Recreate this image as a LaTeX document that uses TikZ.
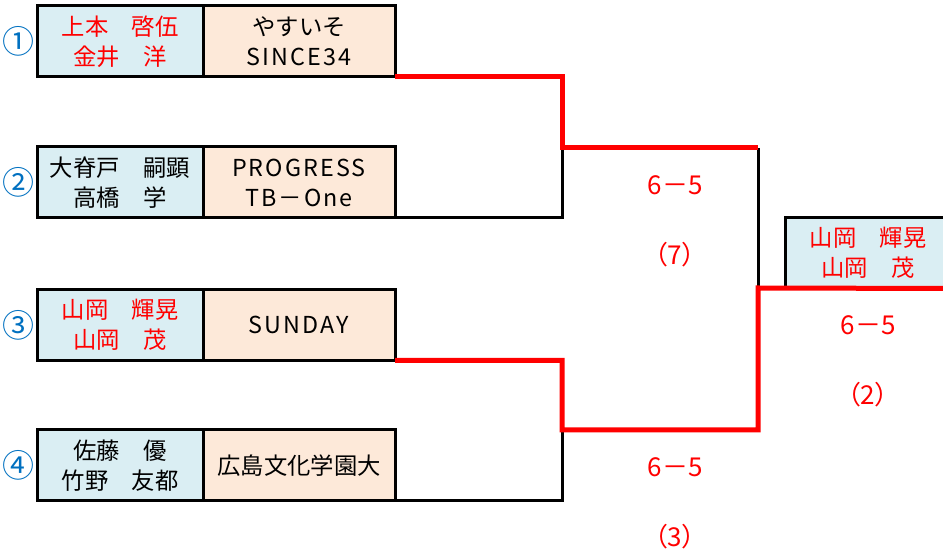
\documentclass[tikz,border=0pt]{standalone}
\usepackage{fontspec}
\setmainfont{Noto Sans CJK JP}
\newfontfamily\scorefont[RawFeature=+palt]{Noto Sans CJK JP}
\newfontfamily\teamfont[LetterSpace=9]{Noto Sans CJK JP}
\usetikzlibrary{positioning}
\definecolor{nameblue}{HTML}{DAEEF3}
\definecolor{teampeach}{HTML}{FDE9D9}
\definecolor{winred}{HTML}{FF0000}
\definecolor{seedblue}{HTML}{0070C0}

\begin{document}
\begin{tikzpicture}[x=0.75pt,y=0.75pt,yscale=-1,xscale=1,
    namebox/.style={draw, line width=2.25pt, fill=nameblue, outer sep=0pt, inner sep=0pt,
        minimum width=124.5pt, minimum height=53.25pt, align=center,
        font=\fontsize{17.5}{22.5}\selectfont},
    teambox/.style={namebox, fill=teampeach, minimum width=144pt},
    seed/.style={text=seedblue, inner sep=0pt, font=\fontsize{24}{24}\selectfont},
    score/.style={text=winred, inner sep=0pt, font=\scorefont\fontsize{19.5}{19.5}\selectfont},
    winline/.style={draw=winred, line width=3.75pt},
    loseline/.style={draw=black, line width=2.25pt}]
    \useasboundingbox (0,0) rectangle (943,555);

    % Pair 1
    \node[namebox, text=winred] (p1n) at (120,41.5) {上本　啓伍\\金井　洋};
    \node[teambox, right=0pt of p1n] (p1t) {やすいそ\\\teamfont SINCE34};
    \node[seed, left=2pt of p1n] (s1) {①};
    % Pair 2
    \node[namebox] (p2n) at (120,182.5) {大脊戸　嗣顕\\高橋　学};
    \node[teambox, right=0pt of p2n] (p2t) {\teamfont PROGRESS\\\teamfont TB－One};
    \node[seed, left=2pt of p2n] (s2) {②};
    % Pair 3
    \node[namebox, text=winred] (p3n) at (120,325) {山岡　輝晃\\山岡　茂};
    \node[teambox, right=0pt of p3n] (p3t) {\teamfont SUNDAY};
    \node[seed, left=2pt of p3n] (s3) {③};
    % Pair 4
    \node[namebox] (p4n) at (120,465.5) {佐藤　優\\竹野　友都};
    \node[teambox, right=0pt of p4n] (p4t) {広島文化学園大};
    \node[seed, left=2pt of p4n] (s4) {④};

    % Winner
    \node[namebox, text=winred] (win) at (868,253) {山岡　輝晃\\山岡　茂};

    % Bracket joints
    \coordinate (m1) at (562,148);
    \coordinate (m2) at (562,430);
    \coordinate (fin) at (758,288);

    % Losing lines
    \draw[loseline] (p2t.south east) -| (m1);
    \draw[loseline] (p4t.south east) -| (m2);
    \draw[loseline] (m1 -| fin) -- (fin);
    % Winning lines
    \draw[winline] (p1t.south east) -| (m1) -- (m1 -| fin);
    \draw[winline] (p3t.south east) -| (m2) -- (m2 -| fin) -- (fin) -- (win.south east);

    % Scores
    \node[score] (sc1) at (675,185) {6－5};
    \node[score] (rd1) at (675,255) {（7）};
    \node[score] (sc2) at (675,467) {6－5};
    \node[score] (rd2) at (675,537) {（3）};
    \node[score] (sc3) at (868,325) {6－5};
    \node[score] (rd3) at (868,395) {（2）};
\end{tikzpicture}
\end{document}
